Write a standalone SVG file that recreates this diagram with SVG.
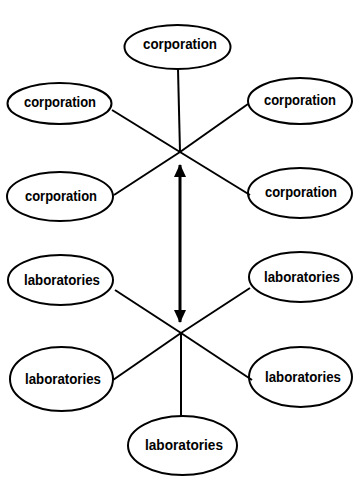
<svg xmlns="http://www.w3.org/2000/svg" width="353" height="478" viewBox="0 0 353 478">
<style>
.n ellipse{fill:none;stroke:#000;stroke-width:2}
.n text{font-family:"Liberation Sans",Arial,sans-serif;font-weight:bold;font-size:15px;text-anchor:middle;fill:#000}
.c line{stroke:#000;stroke-width:2}
.c line.a{stroke-width:3}
</style>
<defs>
<marker id="ah" viewBox="0 0 13 12" refX="12" refY="6" markerWidth="13" markerHeight="12" orient="auto-start-reverse" markerUnits="userSpaceOnUse">
<path d="M0,0 L13,6 L0,12 Z" fill="#000"/>
</marker>
</defs>
<rect width="353" height="478" fill="#fff"/>
<g class="c" id="connectors">
<line x1="178" y1="69" x2="180" y2="152"/>
<line x1="112" y1="110" x2="180" y2="152"/>
<line x1="248" y1="104" x2="180" y2="152"/>
<line x1="114" y1="195" x2="180" y2="152"/>
<line x1="250" y1="195" x2="180" y2="152"/>
<line x1="115" y1="290" x2="181" y2="333"/>
<line x1="250" y1="288" x2="181" y2="333"/>
<line x1="113" y1="380" x2="181" y2="333"/>
<line x1="252" y1="380" x2="181" y2="333"/>
<line x1="181" y1="333" x2="181" y2="416"/>
<line class="a" x1="180" y1="165" x2="180" y2="322" marker-start="url(#ah)" marker-end="url(#ah)"/>
</g>
<g class="n" id="corp-top"><ellipse cx="177.5" cy="47" rx="53" ry="22"/><text x="180" y="49" textLength="74" lengthAdjust="spacingAndGlyphs">corporation</text></g>
<g class="n" id="corp-ul"><ellipse cx="59.5" cy="103.5" rx="52" ry="20.5"/><text x="60" y="107" textLength="72" lengthAdjust="spacingAndGlyphs">corporation</text></g>
<g class="n" id="corp-ur"><ellipse cx="300" cy="101" rx="52" ry="23"/><text x="300" y="105" textLength="72" lengthAdjust="spacingAndGlyphs">corporation</text></g>
<g class="n" id="corp-ml"><ellipse cx="60" cy="196.5" rx="53" ry="24.5"/><text x="61" y="201" textLength="72" lengthAdjust="spacingAndGlyphs">corporation</text></g>
<g class="n" id="corp-mr"><ellipse cx="300" cy="193" rx="52" ry="25"/><text x="301" y="197" textLength="72" lengthAdjust="spacingAndGlyphs">corporation</text></g>
<g class="n" id="lab-ml"><ellipse cx="60.5" cy="280" rx="52.5" ry="25"/><text x="62" y="285" textLength="76" lengthAdjust="spacingAndGlyphs">laboratories</text></g>
<g class="n" id="lab-mr"><ellipse cx="300.5" cy="277" rx="51.5" ry="25"/><text x="302" y="282" textLength="76" lengthAdjust="spacingAndGlyphs">laboratories</text></g>
<g class="n" id="lab-ll"><ellipse cx="61.5" cy="379" rx="51.5" ry="32"/><text x="63" y="384" textLength="76" lengthAdjust="spacingAndGlyphs">laboratories</text></g>
<g class="n" id="lab-lr"><ellipse cx="300.5" cy="377" rx="51.5" ry="30"/><text x="303" y="382" textLength="76" lengthAdjust="spacingAndGlyphs">laboratories</text></g>
<g class="n" id="lab-bot"><ellipse cx="182.5" cy="445.5" rx="54.5" ry="29.5"/><text x="184" y="450" textLength="78" lengthAdjust="spacingAndGlyphs">laboratories</text></g>
</svg>
